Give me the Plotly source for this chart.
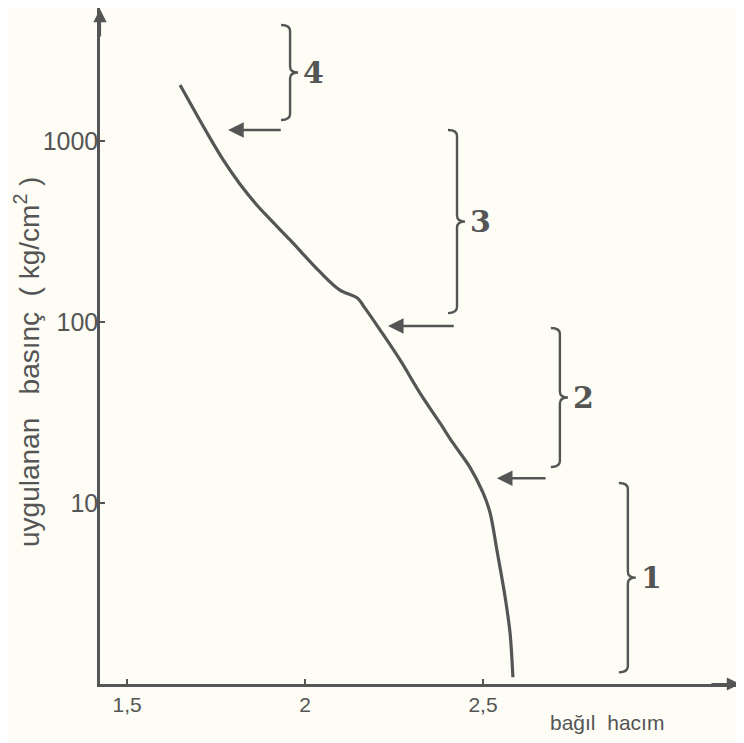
import math
import plotly.graph_objects as go

# ---- data ----
volume = [1.649, 1.725, 1.772, 1.817, 1.862, 1.907, 1.958, 2.042, 2.098, 2.146, 2.169, 2.211, 2.267,
          2.323, 2.379, 2.416, 2.463, 2.500, 2.520, 2.539, 2.562, 2.576, 2.584]
pressure = [2040, 1107, 776, 579, 449, 361, 284, 189, 150, 136, 119, 90.3, 61.7,
            40.5, 27.7, 21.4, 15.8, 11.4, 8.81, 5.50, 3.03, 1.91, 1.09]

x_tick_vals = [1.5, 2.0, 2.5]
x_tick_text = ["1,5", "2", "2,5"]
y_tick_vals = [10, 100, 1000]
y_tick_text = ["10", "100", "1000"]

# region braces: label, brace x (volume), pressure low, pressure high
brace_labels = ["1", "2", "3", "4"]
brace_x = [2.907, 2.716, 2.427, 1.958]
brace_p_low = [1.16, 15.8, 112, 1306]
brace_p_high = [12.9, 92.6, 1150, 4375]

# arrows: head (volume, pressure), tail (volume)
arrow_head_x = [2.539, 2.233, 1.784]
arrow_head_p = [13.7, 95.0, 1150]
arrow_tail_x = [2.680, 2.422, 1.936]

X_RANGE = [1.424, 3.222]
Y_RANGE = [0.0, 3.735]

# page body has an 8px margin, so the figure is drawn 8px smaller / shifted
OFF = 8
W, H = 744 - OFF, 743 - OFF
ML, MR, MT, MB = 100 - OFF, 4, 8 - OFF, 59
PW = W - ML - MR
PH = H - MT - MB

INK = "#555555"
BG = "#fdfdf5"


def px(x):
    return (x - X_RANGE[0]) / (X_RANGE[1] - X_RANGE[0])


def py(p):
    return (math.log10(p) - Y_RANGE[0]) / (Y_RANGE[1] - Y_RANGE[0])


fig = go.Figure()
fig.add_trace(go.Scatter(
    x=volume, y=pressure, mode="lines",
    line=dict(color=INK, width=3.2, shape="spline", smoothing=0.9),
    showlegend=False, hoverinfo="skip",
))

shapes = []
annotations = []

hook = 9 / PW
tip = 8 / PW
e = 6 / PH
for lab, bx, plo, phi in zip(brace_labels, brace_x, brace_p_low, brace_p_high):
    x = px(bx)
    y0 = py(phi)
    y1 = py(plo)
    ym = (y0 + y1) / 2
    path = (f"M {x-hook},{y0} Q {x},{y0} {x},{y0-e} "
            f"L {x},{ym+e} Q {x},{ym} {x+tip},{ym} "
            f"Q {x},{ym} {x},{ym-e} "
            f"L {x},{y1+e} Q {x},{y1} {x-hook},{y1}")
    shapes.append(dict(type="path", xref="paper", yref="paper", path=path,
                       line=dict(color=INK, width=2.4)))
    annotations.append(dict(xref="paper", yref="paper", x=x + tip + 3 / PW, y=ym,
                            text=f"<b>{lab}</b>", showarrow=False, xanchor="left",
                            yanchor="middle",
                            font=dict(family="DejaVu Serif", size=30, color=INK)))

for hx, hp, tx in zip(arrow_head_x, arrow_head_p, arrow_tail_x):
    annotations.append(dict(xref="paper", yref="paper", x=px(hx), y=py(hp),
                            ax=(px(tx) - px(hx)) * PW, ay=0, axref="pixel", ayref="pixel",
                            text="", showarrow=True, arrowhead=2, arrowsize=1.2,
                            arrowwidth=2.6, arrowcolor=INK))

# axis arrowheads
annotations.append(dict(xref="paper", yref="paper", x=1.0, y=0.0, ax=-30, ay=0,
                        text="", showarrow=True, arrowhead=2, arrowsize=1.2,
                        arrowwidth=2.2, arrowcolor=INK))
annotations.append(dict(xref="paper", yref="paper", x=0.0, y=1.0, ax=0, ay=30,
                        text="", showarrow=True, arrowhead=2, arrowsize=1.2,
                        arrowwidth=2.2, arrowcolor=INK))

# axis titles (positions given in screen pixels of the reference)
annotations.append(dict(xref="paper", yref="paper", x=(27 - 100) / PW, y=(684 - 362) / PH,
                        text="uygulanan\u00a0\u00a0\u00a0basınç\u00a0\u00a0(\u00a0kg/cm<sup>2</sup>\u00a0)",
                        textangle=-90, showarrow=False, xanchor="center", yanchor="middle",
                        font=dict(family="Liberation Sans", size=28, color=INK)))
annotations.append(dict(xref="paper", yref="paper", x=(607 - 100) / PW, y=-(722 - 684) / PH,
                        text="bağıl\u00a0\u00a0hacım", showarrow=False,
                        xanchor="center", yanchor="middle",
                        font=dict(family="Liberation Sans", size=21, color=INK)))

fig.update_layout(
    width=W, height=H,
    margin=dict(l=ML, r=MR, t=MT, b=MB),
    paper_bgcolor=BG, plot_bgcolor=BG,
    shapes=shapes, annotations=annotations,
    xaxis=dict(range=X_RANGE, tickvals=x_tick_vals, ticktext=x_tick_text,
               showgrid=False, zeroline=False, showline=True, linecolor=INK, linewidth=2.5,
               ticks="inside", ticklen=5, tickwidth=2, tickcolor=INK,
               tickfont=dict(family="Liberation Sans", size=21, color=INK)),
    yaxis=dict(type="log", range=Y_RANGE, tickvals=y_tick_vals, ticktext=y_tick_text,
               showgrid=False, zeroline=False, showline=True, linecolor=INK, linewidth=2.5,
               ticks="inside", ticklen=5, tickwidth=2, tickcolor=INK,
               ticklabelstandoff=-6,
               tickfont=dict(family="Liberation Sans", size=25, color=INK)),
)

fig.write_html("out.html")
